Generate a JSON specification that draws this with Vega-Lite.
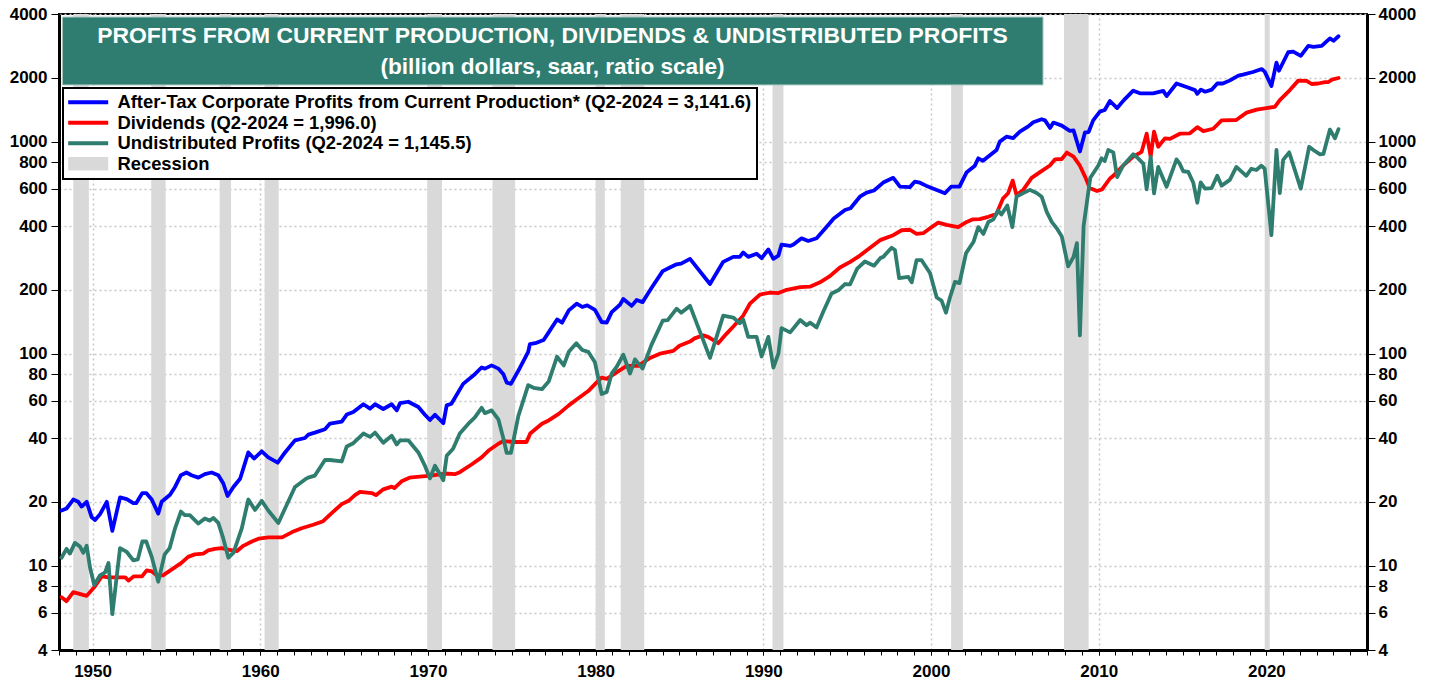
{
  "$schema": "https://vega.github.io/schema/vega-lite/v6.json",
  "width": 1308,
  "height": 636,
  "autosize": "none",
  "padding": {"left": 59, "top": 14, "right": 71, "bottom": 34},
  "background": "white",
  "config": {
    "font": "Liberation Sans",
    "view": {"stroke": "black", "strokeWidth": 2},
    "axis": {"labelFont": "Liberation Sans", "labelFontWeight": "bold", "labelFontSize": 17, "labelColor": "black", "tickColor": "black", "domainColor": "black", "domainWidth": 3}
  },
  "datasets": {
    "rec": [
      {"start": 1948.85, "end": 1949.78}, {"start": 1953.5, "end": 1954.36}, {"start": 1957.58, "end": 1958.26},
      {"start": 1960.26, "end": 1961.1}, {"start": 1969.96, "end": 1970.84}, {"start": 1973.85, "end": 1975.2},
      {"start": 1980.0, "end": 1980.55}, {"start": 1981.5, "end": 1982.9}, {"start": 1990.55, "end": 1991.2},
      {"start": 2001.2, "end": 2001.9}, {"start": 2007.93, "end": 2009.4}, {"start": 2019.9, "end": 2020.2}
    ],
    "after": [
      {"d":1948.15,"v":18.2},{"d":1948.45,"v":18.6},{"d":1948.85,"v":20.5},{"d":1949.15,"v":20},{"d":1949.35,"v":19},{"d":1949.65,"v":20},{"d":1949.95,"v":16.9},
      {"d":1950.15,"v":16.4},{"d":1950.45,"v":17.5},{"d":1950.85,"v":20},{"d":1951.18,"v":14.6},{"d":1951.64,"v":21},{"d":1952.04,"v":20.6},{"d":1952.43,"v":19.7},
      {"d":1952.6,"v":19.7},{"d":1952.97,"v":22},{"d":1953.2,"v":22},{"d":1953.53,"v":20.5},{"d":1953.92,"v":17.6},{"d":1954.12,"v":20},{"d":1954.62,"v":21.6},
      {"d":1954.92,"v":23.5},{"d":1955.27,"v":26.7},{"d":1955.6,"v":27.5},{"d":1955.9,"v":26.7},{"d":1956.31,"v":26},{"d":1956.7,"v":27},{"d":1957.1,"v":27.5},
      {"d":1957.5,"v":26.7},{"d":1957.8,"v":24.4},{"d":1958.05,"v":21.3},{"d":1958.4,"v":23.5},{"d":1958.8,"v":25.7},{"d":1959.29,"v":34.2},{"d":1959.63,"v":32},
      {"d":1960.09,"v":34.6},{"d":1960.48,"v":32.4},{"d":1961.04,"v":30.6},{"d":1961.48,"v":34.2},{"d":1962.07,"v":39},{"d":1962.67,"v":40},{"d":1962.87,"v":41.5},
      {"d":1963.3,"v":42.5},{"d":1963.86,"v":44},{"d":1964.16,"v":46.8},{"d":1964.86,"v":47.8},{"d":1965.16,"v":51.6},{"d":1965.55,"v":53},{"d":1966.15,"v":57.7},
      {"d":1966.55,"v":55},{"d":1966.85,"v":57.7},{"d":1967.34,"v":54.8},{"d":1967.84,"v":57.7},{"d":1968.14,"v":54},{"d":1968.34,"v":58.4},{"d":1968.83,"v":59.3},
      {"d":1969.43,"v":56},{"d":1969.82,"v":51.5},{"d":1970.12,"v":48.6},{"d":1970.42,"v":51.5},{"d":1970.92,"v":47},{"d":1971.12,"v":57},{"d":1971.4,"v":58},
      {"d":1972.1,"v":72},{"d":1972.8,"v":80},{"d":1973.2,"v":86},{"d":1973.4,"v":85},{"d":1973.8,"v":88},{"d":1974.2,"v":85},{"d":1974.5,"v":80},{"d":1974.7,"v":73},
      {"d":1974.95,"v":72},{"d":1975.39,"v":83},{"d":1975.98,"v":102},{"d":1976.08,"v":111},{"d":1976.4,"v":112},{"d":1976.9,"v":116},{"d":1977.2,"v":126},
      {"d":1977.7,"v":145},{"d":1978.0,"v":140},{"d":1978.4,"v":160},{"d":1978.87,"v":172},{"d":1979.2,"v":166},{"d":1979.5,"v":169},{"d":1979.96,"v":161},
      {"d":1980.36,"v":141},{"d":1980.66,"v":140},{"d":1980.96,"v":157},{"d":1981.45,"v":170},{"d":1981.65,"v":181},{"d":1982.15,"v":168},{"d":1982.45,"v":179},
      {"d":1982.8,"v":175},{"d":1983.33,"v":204},{"d":1984.0,"v":245},{"d":1984.4,"v":254},{"d":1984.83,"v":264},{"d":1985.1,"v":266},{"d":1985.63,"v":280},
      {"d":1986.82,"v":213},{"d":1987.61,"v":271},{"d":1988.21,"v":286},{"d":1988.6,"v":286},{"d":1988.8,"v":300},{"d":1989.1,"v":286},{"d":1989.6,"v":296},
      {"d":1989.9,"v":282},{"d":1990.3,"v":310},{"d":1990.6,"v":280},{"d":1990.9,"v":290},{"d":1991.09,"v":327},{"d":1991.6,"v":322},{"d":1991.8,"v":327},
      {"d":1992.28,"v":350},{"d":1992.68,"v":340},{"d":1993.18,"v":350},{"d":1993.87,"v":404},{"d":1994.2,"v":434},{"d":1994.87,"v":476},{"d":1995.2,"v":485},
      {"d":1995.76,"v":550},{"d":1996.16,"v":575},{"d":1996.6,"v":588},{"d":1997.15,"v":641},{"d":1997.75,"v":675},{"d":1998.15,"v":613},{"d":1998.74,"v":610},
      {"d":1999.04,"v":648},{"d":1999.34,"v":640},{"d":1999.7,"v":620},{"d":2000.34,"v":592},{"d":2000.83,"v":571},{"d":2001.2,"v":613},{"d":2001.7,"v":613},
      {"d":2002.13,"v":718},{"d":2002.6,"v":767},{"d":2002.82,"v":834},{"d":2003.1,"v":812},{"d":2003.91,"v":913},{"d":2004.1,"v":1000},{"d":2004.5,"v":1055},
      {"d":2004.9,"v":1040},{"d":2005.3,"v":1115},{"d":2005.8,"v":1180},{"d":2006.1,"v":1235},{"d":2006.6,"v":1275},{"d":2006.8,"v":1260},{"d":2007.1,"v":1160},
      {"d":2007.3,"v":1230},{"d":2007.8,"v":1190},{"d":2008.28,"v":1125},{"d":2008.5,"v":1130},{"d":2008.88,"v":898},{"d":2009.18,"v":1105},{"d":2009.4,"v":1110},
      {"d":2009.67,"v":1260},{"d":2010.07,"v":1385},{"d":2010.36,"v":1410},{"d":2010.67,"v":1555},{"d":2011.1,"v":1440},{"d":2011.5,"v":1570},{"d":2012.06,"v":1740},
      {"d":2012.46,"v":1690},{"d":2013.25,"v":1690},{"d":2013.85,"v":1735},{"d":2014.05,"v":1640},{"d":2014.64,"v":1880},{"d":2015.24,"v":1810},{"d":2015.74,"v":1750},
      {"d":2015.88,"v":1680},{"d":2016.1,"v":1760},{"d":2016.35,"v":1720},{"d":2016.75,"v":1760},{"d":2017.07,"v":1880},{"d":2017.4,"v":1880},{"d":2017.8,"v":1940},
      {"d":2018.33,"v":2050},{"d":2018.6,"v":2070},{"d":2019.2,"v":2130},{"d":2019.72,"v":2200},{"d":2019.9,"v":2140},{"d":2020.3,"v":1830},{"d":2020.6,"v":2360},
      {"d":2020.75,"v":2160},{"d":2021.3,"v":2640},{"d":2021.6,"v":2660},{"d":2022.05,"v":2540},{"d":2022.5,"v":2830},{"d":2022.8,"v":2800},{"d":2023.3,"v":2830},
      {"d":2023.79,"v":3070},{"d":2024.0,"v":2990},{"d":2024.3,"v":3141.6}
    ],
    "div": [
      {"d":1948.15,"v":7.1},{"d":1948.45,"v":6.8},{"d":1948.85,"v":7.5},{"d":1949.65,"v":7.2},{"d":1950.15,"v":8.0},{"d":1950.55,"v":8.9},{"d":1950.95,"v":8.8},
      {"d":1951.45,"v":8.8},{"d":1951.95,"v":8.8},{"d":1952.15,"v":8.5},{"d":1952.45,"v":8.9},{"d":1952.95,"v":8.9},{"d":1953.23,"v":9.5},{"d":1953.53,"v":9.4},
      {"d":1953.82,"v":9.0},{"d":1954.2,"v":9.0},{"d":1954.82,"v":9.7},{"d":1955.3,"v":10.3},{"d":1955.7,"v":11.0},{"d":1956.1,"v":11.3},{"d":1956.6,"v":11.4},
      {"d":1956.9,"v":11.8},{"d":1957.3,"v":12.0},{"d":1957.7,"v":12.1},{"d":1958.1,"v":11.9},{"d":1958.6,"v":11.7},{"d":1958.99,"v":12.4},{"d":1959.5,"v":13.0},
      {"d":1959.9,"v":13.4},{"d":1960.5,"v":13.6},{"d":1961.3,"v":13.6},{"d":1961.9,"v":14.4},{"d":1962.47,"v":15.0},{"d":1963.16,"v":15.6},{"d":1963.75,"v":16.2},
      {"d":1964.26,"v":17.7},{"d":1964.86,"v":19.5},{"d":1965.3,"v":20.3},{"d":1965.65,"v":21.5},{"d":1965.95,"v":22.3},{"d":1966.65,"v":22},{"d":1966.9,"v":21.5},
      {"d":1967.34,"v":22.9},{"d":1967.84,"v":23.6},{"d":1968.0,"v":23.2},{"d":1968.43,"v":25},{"d":1968.9,"v":26},{"d":1969.5,"v":26.3},{"d":1970.2,"v":26.6},
      {"d":1971.0,"v":27.2},{"d":1971.6,"v":27},{"d":1971.9,"v":27.6},{"d":1972.6,"v":30},{"d":1973.2,"v":32.4},{"d":1973.6,"v":34.8},{"d":1974.2,"v":37.6},
      {"d":1974.5,"v":38.7},{"d":1975.1,"v":38.3},{"d":1975.88,"v":38.3},{"d":1976.1,"v":42},{"d":1976.8,"v":46.7},{"d":1977.2,"v":48.4},{"d":1977.8,"v":52},
      {"d":1978.4,"v":57},{"d":1978.97,"v":61.6},{"d":1979.56,"v":66.6},{"d":1980.05,"v":73},{"d":1980.36,"v":77},{"d":1980.66,"v":76},{"d":1981.25,"v":81.6},
      {"d":1981.85,"v":87.6},{"d":1982.55,"v":87.6},{"d":1983.24,"v":95.5},{"d":1983.84,"v":100},{"d":1984.63,"v":103},{"d":1985.0,"v":109},{"d":1985.63,"v":114},
      {"d":1985.9,"v":118},{"d":1986.42,"v":122},{"d":1986.7,"v":120},{"d":1987.31,"v":112},{"d":1987.8,"v":124},{"d":1988.2,"v":134},{"d":1988.8,"v":151},
      {"d":1989.2,"v":172},{"d":1989.8,"v":190},{"d":1990.4,"v":194},{"d":1990.9,"v":193},{"d":1991.4,"v":200},{"d":1992.2,"v":206},{"d":1992.78,"v":207},
      {"d":1993.38,"v":217},{"d":1993.97,"v":232},{"d":1994.57,"v":255},{"d":1995.16,"v":270},{"d":1995.76,"v":290},{"d":1996.35,"v":315},{"d":1996.96,"v":343},
      {"d":1997.75,"v":362},{"d":1998.25,"v":382},{"d":1998.74,"v":384},{"d":1999.14,"v":367},{"d":1999.54,"v":370},{"d":1999.94,"v":390},{"d":2000.43,"v":415},
      {"d":2000.93,"v":405},{"d":2001.62,"v":395},{"d":2002.13,"v":418},{"d":2002.5,"v":430},{"d":2002.9,"v":431},{"d":2003.41,"v":442},{"d":2003.9,"v":456},
      {"d":2004.3,"v":540},{"d":2004.6,"v":571},{"d":2004.87,"v":655},{"d":2005.1,"v":560},{"d":2005.5,"v":592},{"d":2006.0,"v":675},{"d":2006.5,"v":718},
      {"d":2007.09,"v":772},{"d":2007.4,"v":825},{"d":2007.8,"v":828},{"d":2008.1,"v":888},{"d":2008.5,"v":850},{"d":2008.88,"v":770},{"d":2009.2,"v":680},
      {"d":2009.46,"v":605},{"d":2009.9,"v":585},{"d":2010.2,"v":595},{"d":2010.67,"v":670},{"d":2010.87,"v":690},{"d":2011.46,"v":770},{"d":2012.06,"v":850},
      {"d":2012.56,"v":895},{"d":2012.86,"v":1090},{"d":2013.1,"v":850},{"d":2013.3,"v":1115},{"d":2013.55,"v":946},{"d":2013.95,"v":1036},{"d":2014.25,"v":1030},
      {"d":2014.84,"v":1090},{"d":2015.44,"v":1095},{"d":2015.88,"v":1170},{"d":2016.24,"v":1120},{"d":2016.83,"v":1150},{"d":2017.33,"v":1260},{"d":2018.2,"v":1265},
      {"d":2018.82,"v":1370},{"d":2019.42,"v":1415},{"d":2020.0,"v":1440},{"d":2020.5,"v":1460},{"d":2020.8,"v":1570},{"d":2021.4,"v":1750},{"d":2021.9,"v":1940},
      {"d":2022.4,"v":1935},{"d":2022.7,"v":1870},{"d":2023.1,"v":1880},{"d":2023.5,"v":1910},{"d":2023.7,"v":1910},{"d":2023.9,"v":1960},{"d":2024.3,"v":1996.0}
    ],
    "und": [
      {"d":1948.15,"v":10.9},{"d":1948.45,"v":12.0},{"d":1948.65,"v":11.4},{"d":1948.95,"v":12.8},{"d":1949.25,"v":12.3},{"d":1949.45,"v":11.5},{"d":1949.65,"v":12.4},
      {"d":1949.85,"v":9.8},{"d":1950.1,"v":8.1},{"d":1950.45,"v":9.0},{"d":1950.75,"v":9.3},{"d":1950.95,"v":10.3},{"d":1951.18,"v":5.9},{"d":1951.64,"v":12.1},
      {"d":1952.04,"v":11.6},{"d":1952.43,"v":10.6},{"d":1952.7,"v":10.7},{"d":1952.97,"v":13.0},{"d":1953.2,"v":13.0},{"d":1953.53,"v":11.0},{"d":1953.92,"v":8.4},
      {"d":1954.3,"v":11.3},{"d":1954.6,"v":12.1},{"d":1954.92,"v":15.0},{"d":1955.27,"v":18.0},{"d":1955.5,"v":17.3},{"d":1955.8,"v":17.3},{"d":1956.31,"v":15.8},
      {"d":1956.7,"v":16.7},{"d":1957.0,"v":16.3},{"d":1957.2,"v":16.8},{"d":1957.5,"v":15.9},{"d":1957.8,"v":13.4},{"d":1958.1,"v":10.9},{"d":1958.4,"v":11.5},
      {"d":1958.9,"v":15.0},{"d":1959.29,"v":20.5},{"d":1959.69,"v":18.3},{"d":1960.09,"v":20.2},{"d":1960.48,"v":18.2},{"d":1961.08,"v":15.9},{"d":1961.48,"v":18.6},
      {"d":1962.07,"v":23.5},{"d":1962.67,"v":25.5},{"d":1962.86,"v":26},{"d":1963.26,"v":26.6},{"d":1963.86,"v":31.5},{"d":1964.16,"v":31.5},{"d":1964.86,"v":31},
      {"d":1965.16,"v":36.5},{"d":1965.55,"v":37.8},{"d":1966.15,"v":42},{"d":1966.55,"v":40.5},{"d":1966.85,"v":42.4},{"d":1967.34,"v":38},{"d":1967.84,"v":41},
      {"d":1968.14,"v":37.3},{"d":1968.34,"v":39},{"d":1968.83,"v":39},{"d":1969.43,"v":34.2},{"d":1969.82,"v":29.6},{"d":1970.12,"v":25.8},{"d":1970.42,"v":29.6},
      {"d":1970.92,"v":25.3},{"d":1971.12,"v":33},{"d":1971.5,"v":35.6},{"d":1971.9,"v":42},{"d":1972.4,"v":46.6},{"d":1972.8,"v":50},{"d":1973.2,"v":55.5},
      {"d":1973.4,"v":52.4},{"d":1973.8,"v":54},{"d":1974.2,"v":49},{"d":1974.5,"v":39.8},{"d":1974.7,"v":34},{"d":1974.95,"v":34},{"d":1975.39,"v":50.7},
      {"d":1975.98,"v":71},{"d":1976.3,"v":69},{"d":1976.8,"v":68},{"d":1977.2,"v":73.8},{"d":1977.7,"v":96.7},{"d":1978.1,"v":88},{"d":1978.4,"v":102},
      {"d":1978.85,"v":112},{"d":1979.2,"v":104},{"d":1979.56,"v":102},{"d":1979.96,"v":91},{"d":1980.36,"v":64.5},{"d":1980.66,"v":66},{"d":1980.96,"v":80.6},
      {"d":1981.25,"v":86.5},{"d":1981.65,"v":98.8},{"d":1982.05,"v":80.6},{"d":1982.35,"v":94},{"d":1982.8,"v":85},{"d":1983.33,"v":110},{"d":1984.0,"v":143},
      {"d":1984.3,"v":144},{"d":1984.83,"v":163},{"d":1985.1,"v":156},{"d":1985.63,"v":168},{"d":1986.82,"v":95.5},{"d":1987.61,"v":151},{"d":1988.21,"v":148},
      {"d":1988.6,"v":139},{"d":1988.8,"v":145},{"d":1989.1,"v":120},{"d":1989.6,"v":120},{"d":1989.9,"v":97},{"d":1990.3,"v":120},{"d":1990.6,"v":86},
      {"d":1990.9,"v":100},{"d":1991.09,"v":132},{"d":1991.6,"v":126},{"d":1992.2,"v":144},{"d":1992.58,"v":136},{"d":1992.8,"v":140},{"d":1993.18,"v":133},
      {"d":1993.58,"v":158},{"d":1994.07,"v":192},{"d":1994.47,"v":199},{"d":1994.87,"v":213},{"d":1995.17,"v":212},{"d":1995.6,"v":252},{"d":1996.06,"v":272},
      {"d":1996.6,"v":260},{"d":1997.0,"v":283},{"d":1997.15,"v":286},{"d":1997.65,"v":316},{"d":1997.85,"v":308},{"d":1998.1,"v":227},{"d":1998.65,"v":230},
      {"d":1998.85,"v":217},{"d":1999.14,"v":276},{"d":1999.44,"v":276},{"d":1999.94,"v":240},{"d":2000.34,"v":184},{"d":2000.63,"v":178},{"d":2000.89,"v":156},
      {"d":2001.13,"v":184},{"d":2001.43,"v":218},{"d":2001.7,"v":215},{"d":2002.09,"v":298},{"d":2002.53,"v":336},{"d":2002.82,"v":395},{"d":2003.12,"v":367},
      {"d":2003.42,"v":418},{"d":2003.72,"v":430},{"d":2004.0,"v":473},{"d":2004.2,"v":453},{"d":2004.55,"v":500},{"d":2004.85,"v":395},{"d":2005.1,"v":550},
      {"d":2005.5,"v":572},{"d":2005.9,"v":592},{"d":2006.3,"v":572},{"d":2006.6,"v":550},{"d":2006.9,"v":466},{"d":2007.2,"v":418},{"d":2007.5,"v":390},
      {"d":2007.8,"v":357},{"d":2008.18,"v":258},{"d":2008.5,"v":286},{"d":2008.7,"v":332},{"d":2008.88,"v":122},{"d":2009.1,"v":400},{"d":2009.5,"v":675},
      {"d":2009.97,"v":770},{"d":2010.17,"v":834},{"d":2010.36,"v":810},{"d":2010.57,"v":913},{"d":2010.87,"v":890},{"d":2011.1,"v":681},{"d":2011.46,"v":772},
      {"d":2012.06,"v":872},{"d":2012.35,"v":834},{"d":2012.66,"v":788},{"d":2012.86,"v":596},{"d":2013.1,"v":850},{"d":2013.3,"v":570},{"d":2013.55,"v":760},
      {"d":2014.05,"v":613},{"d":2014.64,"v":825},{"d":2014.84,"v":785},{"d":2015.04,"v":725},{"d":2015.34,"v":720},{"d":2015.64,"v":640},{"d":2015.88,"v":515},
      {"d":2016.08,"v":642},{"d":2016.34,"v":600},{"d":2016.73,"v":603},{"d":2017.07,"v":690},{"d":2017.33,"v":620},{"d":2017.82,"v":660},{"d":2018.21,"v":760},
      {"d":2018.8,"v":690},{"d":2019.1,"v":745},{"d":2019.4,"v":735},{"d":2019.7,"v":770},{"d":2019.9,"v":745},{"d":2020.3,"v":362},{"d":2020.6,"v":913},
      {"d":2020.8,"v":572},{"d":2021.0,"v":820},{"d":2021.36,"v":890},{"d":2022.05,"v":600},{"d":2022.55,"v":946},{"d":2022.8,"v":913},{"d":2023.2,"v":870},
      {"d":2023.4,"v":875},{"d":2023.79,"v":1140},{"d":2024.09,"v":1036},{"d":2024.3,"v":1145.5}
    ]
  },
  "resolve": {"axis": {"y": "independent", "x": "independent"}},
  "layer": [
    {
      "data": {"name": "rec"},
      "mark": {"type": "rect"},
      "encoding": {
        "x": {
          "field": "start", "type": "quantitative",
          "scale": {"domain": [1948, 2026], "nice": false, "zero": false},
          "axis": {
            "orient": "bottom",
            "title": null,
            "values": [1950, 1960, 1970, 1980, 1990, 2000, 2010, 2020],
            "format": "d",
            "labelOverlap": false,
            "labelFlush": false,
            "labelBound": false,
            "grid": true,
            "gridColor": "#c8c8c8",
            "gridDash": [2, 3],
            "gridWidth": 1.5,
            "tickSize": 5,
            "tickWidth": 1,
            "labelPadding": 8,
            "domainWidth": 3
          }
        },
        "x2": {"field": "end"},
        "color": {
          "datum": "Recession",
          "type": "nominal",
          "scale": {
            "domain": ["After-Tax Corporate Profits from Current Production* (Q2-2024 = 3,141.6)", "Dividends (Q2-2024 = 1,996.0)", "Undistributed Profits (Q2-2024 = 1,145.5)", "Recession"],
            "range": ["#0000ff", "#ff0000", "#2e7d6f", "#d9d9d9"]
          },
          "legend": {
            "title": null,
            "orient": "none",
            "legendX": 4,
            "legendY": 74,
            "symbolType": "stroke",
            "symbolOffset": 11,
            "labelFont": "Liberation Sans",
            "labelFontWeight": "bold",
            "labelFontSize": 18.4,
            "labelColor": "black",
            "labelLimit": 1000,
            "labelOffset": 20,
            "rowPadding": 1.5,
            "padding": 5,
            "strokeColor": "black",
            "fillColor": "white",
            "encode": {
              "symbols": {"update": {
                "shape": {"signal": "datum.value === 'Recession' ? 'M-4,-1.35H4V1.35H-4Z' : 'M-4,-0.4H4V0.4H-4Z'"},
                "fill": {"scale": "color", "field": "value"},
                "stroke": {"value": "transparent"},
                "strokeWidth": {"value": 0},
                "size": {"value": 100},
                "opacity": {"value": 1}
              }},
              "legend": {"update": {"strokeWidth": {"value": 2}}}
            }
          }
        }
      }
    },
    {
      "data": {"name": "after"},
      "mark": {"type": "line", "strokeWidth": 3.8, "strokeJoin": "round", "strokeCap": "round"},
      "encoding": {
        "x": {
          "field": "d", "type": "quantitative",
          "scale": {"domain": [1948, 2026], "nice": false, "zero": false},
          "axis": {
            "orient": "bottom",
            "title": null,
            "values": [1948,1949,1950,1951,1952,1953,1954,1955,1956,1957,1958,1959,1960,1961,1962,1963,1964,1965,1966,1967,1968,1969,1970,1971,1972,1973,1974,1975,1976,1977,1978,1979,1980,1981,1982,1983,1984,1985,1986,1987,1988,1989,1990,1991,1992,1993,1994,1995,1996,1997,1998,1999,2000,2001,2002,2003,2004,2005,2006,2007,2008,2009,2010,2011,2012,2013,2014,2015,2016,2017,2018,2019,2020,2021,2022,2023,2024,2025,2026],
            "labels": false,
            "grid": false,
            "domain": false,
            "tickSize": 5,
            "tickWidth": 1
          }
        },
        "y": {
          "field": "v", "type": "quantitative",
          "scale": {"type": "log", "domain": [4, 4000], "nice": false},
          "axis": {
            "orient": "left", "title": null,
            "values": [4, 6, 8, 10, 20, 40, 60, 80, 100, 200, 400, 600, 800, 1000, 2000, 4000],
            "format": "d", "labelOverlap": false, "labelFlush": false,
            "grid": true, "gridColor": "#c8c8c8", "gridDash": [2, 3], "gridWidth": 1.5,
            "tickSize": 8, "tickWidth": 1, "labelPadding": 4, "domainWidth": 3
          }
        },
        "color": {"datum": "After-Tax Corporate Profits from Current Production* (Q2-2024 = 3,141.6)", "type": "nominal"}
      }
    },
    {
      "data": {"name": "div"},
      "mark": {"type": "line", "strokeWidth": 3.8, "strokeJoin": "round", "strokeCap": "round"},
      "encoding": {
        "x": {"field": "d", "type": "quantitative", "scale": {"domain": [1948, 2026], "nice": false, "zero": false}, "axis": null},
        "y": {
          "field": "v", "type": "quantitative",
          "scale": {"type": "log", "domain": [4, 4000], "nice": false},
          "axis": {
            "orient": "right", "title": null,
            "values": [4, 6, 8, 10, 20, 40, 60, 80, 100, 200, 400, 600, 800, 1000, 2000, 4000],
            "format": "d", "labelOverlap": false, "labelFlush": false,
            "grid": false, "tickSize": 8, "tickWidth": 1, "labelPadding": 3, "domainWidth": 3
          }
        },
        "color": {"datum": "Dividends (Q2-2024 = 1,996.0)", "type": "nominal"}
      }
    },
    {
      "data": {"name": "und"},
      "mark": {"type": "line", "strokeWidth": 3.8, "strokeJoin": "round", "strokeCap": "round"},
      "encoding": {
        "x": {"field": "d", "type": "quantitative", "scale": {"domain": [1948, 2026], "nice": false, "zero": false}, "axis": null},
        "y": {"field": "v", "type": "quantitative", "scale": {"type": "log", "domain": [4, 4000], "nice": false}, "axis": null},
        "color": {"datum": "Undistributed Profits (Q2-2024 = 1,145.5)", "type": "nominal"}
      }
    },
    {
      "data": {"values": [{}]},
      "mark": {"type": "rect", "color": "#2e7d70", "stroke": "#a9c9c1", "strokeWidth": 1},
      "encoding": {
        "x": {"datum": 1948.2, "type": "quantitative", "scale": {"domain": [1948, 2026], "nice": false, "zero": false}, "axis": null},
        "x2": {"datum": 2006.68},
        "y": {"datum": 3870, "type": "quantitative", "scale": {"type": "log", "domain": [4, 4000], "nice": false}, "axis": null},
        "y2": {"datum": 1851}
      }
    },
    {
      "data": {"values": [{}]},
      "mark": {"type": "text", "text": "PROFITS FROM CURRENT PRODUCTION, DIVIDENDS & UNDISTRIBUTED PROFITS", "font": "Liberation Sans", "fontWeight": "bold", "fontSize": 22.9, "color": "white", "align": "center", "baseline": "middle"},
      "encoding": {
        "x": {"datum": 1977.43, "type": "quantitative", "scale": {"domain": [1948, 2026], "nice": false, "zero": false}, "axis": null},
        "y": {"datum": 3149, "type": "quantitative", "scale": {"type": "log", "domain": [4, 4000], "nice": false}, "axis": null}
      }
    },
    {
      "data": {"values": [{}]},
      "mark": {"type": "text", "text": "(billion dollars, saar, ratio scale)", "font": "Liberation Sans", "fontWeight": "bold", "fontSize": 22.6, "color": "white", "align": "center", "baseline": "middle"},
      "encoding": {
        "x": {"datum": 1977.43, "type": "quantitative", "scale": {"domain": [1948, 2026], "nice": false, "zero": false}, "axis": null},
        "y": {"datum": 2249, "type": "quantitative", "scale": {"type": "log", "domain": [4, 4000], "nice": false}, "axis": null}
      }
    }
  ]
}
